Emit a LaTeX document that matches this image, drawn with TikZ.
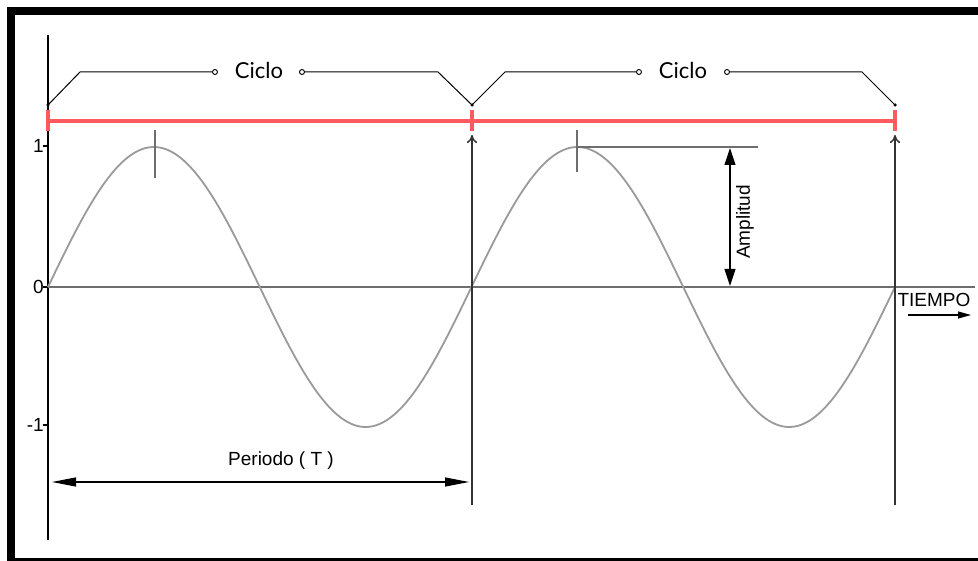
\documentclass[tikz,border=0pt]{standalone}
\usepackage{fontspec}
\setmainfont{Liberation Sans}
\newfontfamily\ciclofont{Lato}
\usepackage{xcolor}
\usetikzlibrary{arrows.meta, positioning, calc}

\definecolor{wave}{HTML}{9A9A9A}
\definecolor{guide}{HTML}{6E6E6E}
\definecolor{cyclered}{HTML}{FF5A5F}

\begin{document}
\begin{tikzpicture}[
  x=1pt, y=-1pt,
  lbl/.style={font=\fontsize{19}{19}\selectfont, inner sep=1pt},
  ciclolbl/.style={font=\ciclofont\fontsize{22}{22}\selectfont, inner sep=1pt},
  ring/.style={circle, draw, line width=0.9pt, fill=white, minimum size=5pt, inner sep=0pt},
  dot/.style={circle, fill=black, minimum size=3.5pt, inner sep=0pt},
  brace/.style={line width=1pt},
  redbar/.style={cyclered, line width=3.2pt},
  dimarrow/.style={{Triangle[length=24pt, width=9pt]}-{Triangle[length=24pt, width=9pt]}, line width=1.1pt},
  amparrow/.style={{Triangle[length=17pt, width=11pt]}-{Triangle[length=17pt, width=11pt]}, line width=1.1pt},
  uparrow/.style={-{To[length=8pt, width=10pt]}, black!80, line width=1.5pt}
]
  \useasboundingbox (0,0) rectangle (978,561);

  % frame
  \draw[line width=8pt] (978,11) -- (11,11) -- (11,561);
  \draw[line width=2.5pt] (11,559.5) -- (978,559.5);

  % axes
  \coordinate (o) at (48,287);
  \draw[line width=1.5pt] (48,35) -- (48,540);
  \draw[guide, line width=1.4pt] (o) -- (975,287);
  \node[lbl, left=3pt of {(48,146)}] (ytop) {1};
  \node[lbl, left=3pt of {(48,287)}] (yzero) {0};
  \node[lbl, left=3pt of {(48,425)}] (ybot) {-1};
  \draw[line width=1.4pt] (43,146) -- (48,146) (43,287) -- (48,287) (43,425) -- (48,425);

  % wave
  \draw[wave, line width=1.8pt] plot[domain=48:895, samples=300, smooth]
    (\x, {287-140*sin((\x-48)/423.5*360)});

  % peak marks
  \draw[guide, line width=1.4pt] (155,130) -- (155,178);
  \draw[guide, line width=1.4pt] (577,130) -- (577,172);
  \draw[guide, line width=1.4pt] (577,147) -- (758,147);

  % period lines
  \coordinate (p1) at (472,505);
  \coordinate (p2) at (895,505);
  \draw[uparrow] (p1) -- (472,135);
  \draw[uparrow] (p2) -- (895,135);

  % red cycle bar
  \draw[redbar] (48,121) -- (895,121);
  \foreach \xx in {48,472,895}
    \draw[redbar] (\xx,110) -- (\xx,131);

  % Ciclo braces
  \node[dot] (c0) at (48,105) {};
  \node[dot] (c1) at (472,105) {};
  \node[dot] (c2) at (895,105) {};
  \node[ring] (r1) at (215,72) {};
  \node[ring] (r2) at (302,72) {};
  \node[ring] (r3) at (639,72) {};
  \node[ring] (r4) at (727,72) {};
  \node[ciclolbl] (ciclo1) at (259,70) {Ciclo};
  \node[ciclolbl] (ciclo2) at (683,70) {Ciclo};
  \draw[brace] (c0.center) -- (80,72) -- (r1);
  \draw[brace] (r2) -- (438,72) -- (c1.center);
  \draw[brace] (c1.center) -- (505,72) -- (r3);
  \draw[brace] (r4) -- (862,72) -- (c2.center);

  % amplitude
  \coordinate (ampTop) at (730,148);
  \coordinate (ampBot) at (730,286);
  \draw[amparrow] (ampTop) -- (ampBot);
  \node[lbl, rotate=90] (amplitud) at (745,222) {Amplitud};

  % period
  \coordinate (perL) at (52,482);
  \coordinate (perR) at (469,482);
  \draw[dimarrow] (perL) -- (perR);
  \node[lbl] (periodo) at (281,461) {Periodo ( T )};

  % time
  \node[lbl] (tiempo) at (934,300) {TIEMPO};
  \draw[-{Triangle[length=13pt, width=7pt]}, line width=1.1pt] (908,315) -- (971,315);
\end{tikzpicture}
\end{document}
